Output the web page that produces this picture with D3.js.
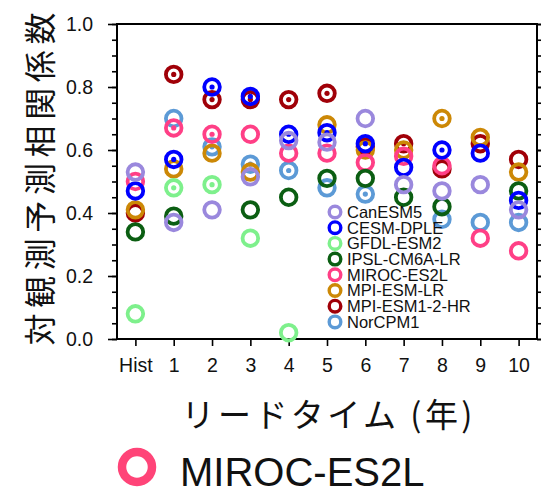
<!DOCTYPE html>
<html>
<head>
<meta charset="utf-8">
<script src="https://cdn.jsdelivr.net/npm/d3@7"></script>
<style>
  body { margin: 0; background: #fff; }
  svg { display: block; }
</style>
</head>
<body>
<script>
var width = 541;
var height = 491;

// lead times (x categories)
var leads = ["Hist", "1", "2", "3", "4", "5", "6", "7", "8", "9", "10"];

// correlation per model, Hist then lead 1..10 (null = not shown)
var canesm5  = [0.53, 0.37, 0.41, 0.515, 0.63, 0.625, 0.70, 0.49, 0.47, 0.49, 0.41];
var cesmDple = [0.47, 0.57, 0.80, 0.77, 0.65, 0.655, 0.62, 0.545, 0.60, 0.59, 0.44];
var gfdl     = [0.08, 0.48, 0.49, 0.32, 0.02, null, null, null, null, null, null];
var ipsl     = [0.34, 0.39, null, 0.41, 0.45, 0.51, 0.51, 0.45, 0.42, null, 0.47];
var miroc    = [0.50, 0.67, 0.65, 0.65, 0.59, 0.59, 0.56, 0.58, 0.55, 0.32, 0.28];
var mpiLr    = [0.41, 0.54, 0.59, 0.53, null, 0.68, 0.60, 0.60, 0.70, 0.64, 0.53];
var mpiHr    = [0.40, 0.84, 0.76, 0.76, 0.76, 0.78, 0.61, 0.62, 0.54, 0.62, 0.57];
var norcpm   = [null, 0.70, 0.61, 0.555, 0.535, 0.48, 0.46, null, 0.38, 0.37, 0.37];

// 1 = centre dot drawn
var canesm5Sig  = [0, 0, 0, 0, 0, 0, 0, 0, 0, 0, 0];
var cesmDpleSig = [0, 1, 1, 1, 1, 1, 1, 0, 1, 0, 0];
var gfdlSig     = [0, 1, 1, 0, 0, 0, 0, 0, 0, 0, 0];
var ipslSig     = [0, 0, 0, 0, 0, 0, 0, 0, 0, 0, 0];
var mirocSig    = [0, 1, 1, 0, 0, 0, 0, 0, 0, 0, 0];
var mpiLrSig    = [0, 0, 0, 0, 0, 0, 0, 0, 1, 0, 0];
var mpiHrSig    = [0, 1, 1, 1, 1, 1, 0, 1, 0, 0, 0];
var norcpmSig   = [0, 0, 1, 1, 1, 0, 1, 0, 0, 0, 0];

var modelNames = ["CanESM5", "CESM-DPLE", "GFDL-ESM2", "IPSL-CM6A-LR", "MIROC-ES2L", "MPI-ESM-LR", "MPI-ESM1-2-HR", "NorCPM1"];
var modelValues = [canesm5, cesmDple, gfdl, ipsl, miroc, mpiLr, mpiHr, norcpm];
var modelSig = [canesm5Sig, cesmDpleSig, gfdlSig, ipslSig, mirocSig, mpiLrSig, mpiHrSig, norcpmSig];
var modelColors = ["#9a88dd", "#0000ff", "#7ef08c", "#0b5e12", "#ff3f86", "#cc8806", "#a00008", "#5c9ad6"];

var yTicks = [0, 0.2, 0.4, 0.6, 0.8, 1.0];

var plot = { left: 117, right: 537, top: 24, bottom: 339 };

var latin = "'Liberation Sans', Arial, Helvetica, sans-serif";
var cjk = "'Noto Sans CJK JP', 'Noto Sans CJK SC', sans-serif";

var xScale = d3.scalePoint()
  .domain(leads)
  .range([plot.left, plot.right])
  .padding(0.48);

var yScale = d3.scaleLinear()
  .domain([0, 1])
  .range([plot.bottom, plot.top]);

var colorScale = d3.scaleOrdinal()
  .domain(modelNames)
  .range(modelColors);

var svg = d3.select("body")
  .append("svg")
  .attr("width", width)
  .attr("height", height);

// minor ticks every 0.05 both sides
var minor = d3.range(0, 21).map(function(i) { return i * 0.05; });

var leftAxis = d3.axisLeft(yScale).tickValues(minor).tickSize(5).tickFormat("");
var rightAxis = d3.axisRight(yScale).tickValues(minor).tickSize(5).tickFormat("");

svg.append("g")
  .attr("transform", "translate(" + plot.left + ",0)")
  .call(leftAxis);
svg.append("g")
  .attr("transform", "translate(" + plot.right + ",0)")
  .call(rightAxis);

// major ticks + labels
var yAxis = d3.axisLeft(yScale)
  .tickValues(yTicks)
  .tickSize(9)
  .tickPadding(15)
  .tickFormat(d3.format(".1f"));

var gy = svg.append("g")
  .attr("transform", "translate(" + plot.left + ",0)")
  .call(yAxis);
gy.selectAll("text")
  .style("font-family", latin)
  .style("font-size", "19.5px")
  .attr("fill", "#111");

svg.append("g")
  .attr("transform", "translate(" + plot.right + ",0)")
  .call(d3.axisRight(yScale).tickValues(yTicks).tickSize(9).tickFormat(""));

var xAxis = d3.axisBottom(xScale)
  .tickSize(7)
  .tickPadding(12);

var gx = svg.append("g")
  .attr("transform", "translate(0," + plot.bottom + ")")
  .call(xAxis);
gx.selectAll("text")
  .style("font-family", latin)
  .style("font-size", "19.5px")
  .attr("fill", "#111");

svg.selectAll(".domain").remove();
svg.selectAll(".tick line").attr("stroke", "#000").attr("stroke-width", 1.6);

// frame
svg.append("rect")
  .attr("x", plot.left)
  .attr("y", plot.top)
  .attr("width", plot.right - plot.left)
  .attr("height", plot.bottom - plot.top)
  .attr("fill", "none")
  .attr("stroke", "#000")
  .attr("stroke-width", 2);

// points, last model drawn first
var points = [];
modelNames.forEach(function(name, m) {
  modelValues[m].forEach(function(v, i) {
    if (v !== null) {
      points.push({ model: name, order: m, lead: leads[i], value: v, sig: modelSig[m][i] });
    }
  });
});
points.sort(function(a, b) { return b.order - a.order; });

var marks = svg.append("g")
  .selectAll("g")
  .data(points)
  .enter()
  .append("g")
  .attr("transform", function(d) {
    return "translate(" + xScale(d.lead) + "," + yScale(d.value) + ")";
  });

marks.append("circle")
  .attr("r", 7.8)
  .attr("fill", "none")
  .attr("stroke", function(d) { return colorScale(d.model); })
  .attr("stroke-width", 3.8);

marks.filter(function(d) { return d.sig === 1; })
  .append("circle")
  .attr("r", 2.6)
  .attr("fill", function(d) { return colorScale(d.model); });

// legend in plot
var legend = svg.append("g")
  .selectAll("g")
  .data(modelNames)
  .enter()
  .append("g")
  .attr("transform", function(d, i) {
    return "translate(335," + (212 + i * 15.7) + ")";
  });

legend.append("circle")
  .attr("r", 5.8)
  .attr("fill", "none")
  .attr("stroke", function(d) { return colorScale(d); })
  .attr("stroke-width", 3.4);

legend.append("text")
  .attr("x", 12)
  .attr("dy", "0.36em")
  .style("font-family", latin)
  .style("font-size", "16.5px")
  .attr("fill", "#111")
  .text(function(d) { return d; });

// axis titles
svg.append("text")
  .attr("transform", "translate(52,179) rotate(-90)")
  .attr("text-anchor", "middle")
  .attr("textLength", 333)
  .attr("lengthAdjust", "spacing")
  .style("font-family", cjk)
  .style("font-size", "32px")
  .attr("fill", "#111")
  .text("対観測予測相関係数");

svg.append("text")
  .attr("x", 327)
  .attr("y", 427)
  .attr("text-anchor", "middle")
  .attr("textLength", 291)
  .attr("lengthAdjust", "spacing")
  .style("font-family", cjk)
  .style("font-size", "33px")
  .attr("fill", "#111")
  .text("リードタイム (年)");

// highlighted model key
svg.append("circle")
  .attr("cx", 137)
  .attr("cy", 467)
  .attr("r", 15)
  .attr("fill", "none")
  .attr("stroke", "#ff4478")
  .attr("stroke-width", 8.5);

svg.append("text")
  .attr("x", 180)
  .attr("y", 486)
  .style("font-family", latin)
  .style("font-size", "40px")
  .attr("fill", "#111")
  .text("MIROC-ES2L");
</script>
</body>
</html>
